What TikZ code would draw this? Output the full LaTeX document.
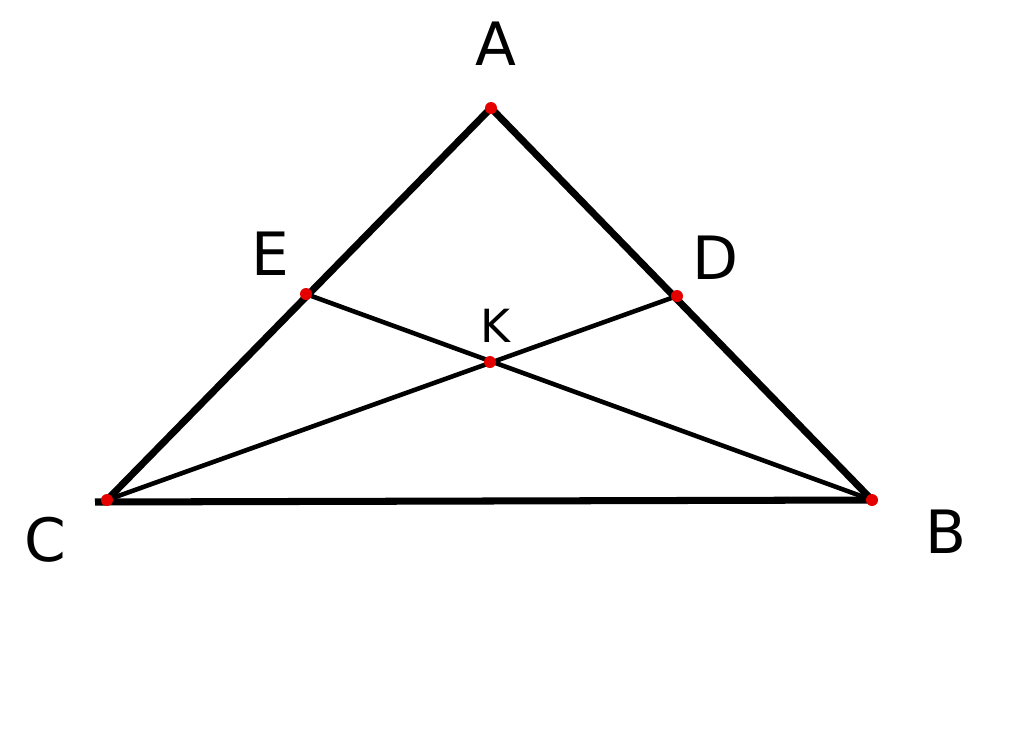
\documentclass[tikz,border=0pt]{standalone}
\usepackage{fontspec}
\setmainfont{DejaVu Sans}
\tikzset{
pt/.style={circle, fill=red!90!black, inner sep=0pt, minimum size=2.4mm}, % red dots on the vertices
side/.style={line width=4pt, line cap=round},
cevian/.style={line width=2.6pt},
lbl/.style={font=\fontsize{34}{34}\selectfont},
small lbl/.style={font=\fontsize{26}{26}\selectfont}
}

\begin{document}
\begin{tikzpicture}[x=0.2mm, y=-0.2mm]
   \useasboundingbox (0,0) rectangle (1024,732);
   % points
   \coordinate (a) at (491,108);
   \coordinate (b) at (872,500);
   \coordinate (c) at (107,500);
   \coordinate (c0) at (95,502);
   \coordinate (d) at (677,296);
   \coordinate (e) at (306,294);
   \coordinate (k) at (490,362);
   % triangle
   \draw[side] (c) -- (a) -- (b);
   \draw[side, line cap=butt] (c0) -- (b);
   % cevians
   \path[cevian]
    (c) edge (d)
    (b) edge (e);
   % dots
   \foreach \p in {a,b,c,d,e,k}
      \node[pt] at (\p) {};
   % labels
   \node[lbl] (la) at (496,44) {A};
   \node[lbl] (le) at (270,254) {E};
   \node[lbl] (ld) at (716,258) {D};
   \node[small lbl] (lk) at (495,326) {K};
   \node[lbl] (lc) at (45,540) {C};
   \node[lbl] (lb) at (946,532) {B};
\end{tikzpicture}
\end{document}
